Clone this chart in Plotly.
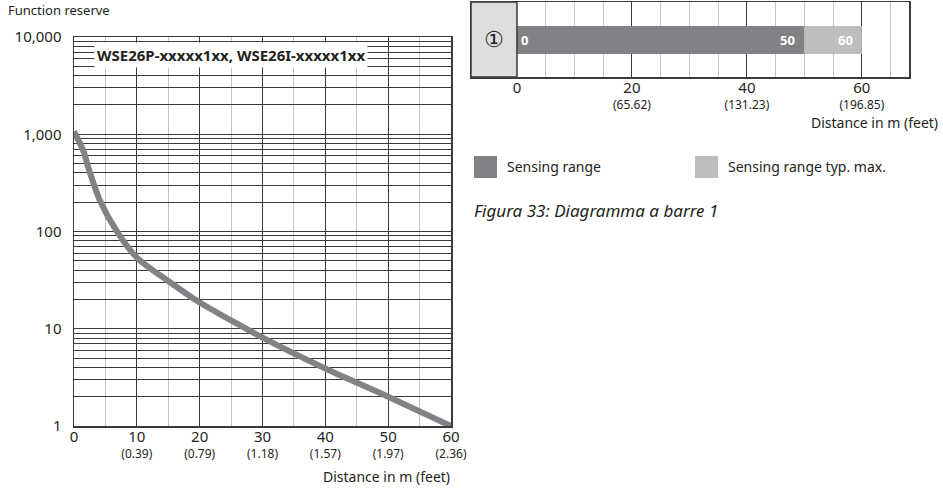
import plotly.graph_objects as go

# ---------------- data ----------------
dist_m = [0, 1.5, 2.3, 4.1, 6.8, 10, 15, 20, 25, 30, 40, 50, 60]
func_reserve = [1070, 670, 450, 210, 101, 54, 31, 18.6, 12.2, 8.1, 3.9, 2.0, 1.0]

x_ticks = [0, 10, 20, 30, 40, 50, 60]
x_feet = ["", "(0.39)", "(0.79)", "(1.18)", "(1.57)", "(1.97)", "(2.36)"]
y_ticks = [1, 10, 100, 1000, 10000]
y_tick_labels = ["1", "10", "100", "1,000", "10,000"]

bar_names = ["Sensing range", "Sensing range typ. max."]
bar_start = [0, 50]
bar_end = [50, 60]
bar_ticks = [0, 20, 40, 60]
bar_feet = ["", "(65.62)", "(131.23)", "(196.85)"]

model_label = "WSE26P-xxxxx1xx, WSE26I-xxxxx1xx"
row_label = "①"
caption = "Figura 33: Diagramma a barre 1"

# ---------------- style ----------------
W, H = 943, 488
FONT = "Noto Sans"
TXT = "#231f20"
DARK_GRID = "#3a3a3a"
LIGHT_GRID = "#c4c4c4"
CURVE = "#808285"
BAR_DARK = "#808285"
BAR_LIGHT = "#bcbec0"
CELL = "#dcdddf"


def px(x):
    return x / W


def py(y):
    return 1 - y / H


def ticktext(main, sub):
    out = []
    for m, s in zip(main, sub):
        line1 = f"<span style='font-size:15px'>{m}</span>"
        out.append(f"{line1}<br>{s}" if s else f"{line1}<br> ")
    return out


fig = go.Figure()

# left: function reserve curve
fig.add_trace(go.Scatter(
    x=dist_m, y=func_reserve, mode="lines",
    line=dict(color=CURVE, width=6, shape="spline", smoothing=0.8),
    xaxis="x", yaxis="y", showlegend=False, hoverinfo="skip"))

# right: bar diagram
bar_colors = [BAR_DARK, BAR_LIGHT]
for name, s, e, c in zip(bar_names, bar_start, bar_end, bar_colors):
    fig.add_trace(go.Bar(
        x=[e - s], base=[s], y=[0.493], width=0.373, orientation="h",
        marker=dict(color=c, line=dict(width=0)), name=name,
        xaxis="x2", yaxis="y2", showlegend=False, hoverinfo="skip"))

minor_y = [k * 10 ** d for d in range(4) for k in range(2, 10)]

fig.update_layout(
    width=W, height=H,
    margin=dict(l=0, r=0, t=0, b=0, autoexpand=False),
    paper_bgcolor="white", plot_bgcolor="white",
    font=dict(family=FONT, color=TXT, size=14),
    barmode="overlay",
    xaxis=dict(
        domain=[px(74), px(451)], range=[0, 60], anchor="y", automargin=False,
        tickmode="array", tickvals=x_ticks,
        ticktext=ticktext([str(v) for v in x_ticks], x_feet),
        showgrid=True, gridcolor=DARK_GRID, gridwidth=1,
        minor=dict(dtick=5, tick0=0, showgrid=True, gridcolor=LIGHT_GRID, gridwidth=1),
        showline=True, linecolor=DARK_GRID, linewidth=1.5, mirror=True,
        zeroline=False, ticks="", tickfont=dict(size=12), ticklabelstandoff=0,
    ),
    yaxis=dict(
        domain=[py(426), py(37)], type="log", range=[0, 4], anchor="x", automargin=False,
        tickmode="array", tickvals=y_ticks, ticktext=y_tick_labels,
        showgrid=True, gridcolor=DARK_GRID, gridwidth=1,
        minor=dict(tickmode="array", tickvals=minor_y, showgrid=True,
                   gridcolor=DARK_GRID, gridwidth=1, ticks=""),
        showline=True, linecolor=DARK_GRID, linewidth=1.5, mirror=True,
        zeroline=False, ticks="", tickfont=dict(size=15), ticklabelstandoff=8,
    ),
    xaxis2=dict(
        domain=[px(471), px(909)], range=[-8, 68.2], anchor="y2", automargin=False,
        tickmode="array", tickvals=bar_ticks,
        ticktext=ticktext([str(v) for v in bar_ticks], bar_feet),
        showgrid=True, gridcolor=DARK_GRID, gridwidth=1,
        minor=dict(dtick=5, tick0=0, showgrid=True, gridcolor=LIGHT_GRID, gridwidth=1),
        showline=True, linecolor=DARK_GRID, linewidth=1.5, mirror=True,
        zeroline=False, ticks="", tickfont=dict(size=12), ticklabelstandoff=0,
    ),
    yaxis2=dict(
        domain=[py(77), py(2)], range=[0, 1], anchor="x2", automargin=False,
        showgrid=False, showticklabels=False, zeroline=False,
        showline=True, linecolor=DARK_GRID, linewidth=1.5, mirror=True,
    ),
)

shapes = [
    dict(type="rect", xref="x2", yref="y2", x0=-8, x1=0, y0=0, y1=1,
         fillcolor=CELL, line=dict(color=DARK_GRID, width=1.5), layer="above"),
]
# legend squares
leg_x = [474, 695]
for lx, c in zip(leg_x, bar_colors):
    shapes.append(dict(type="rect", xref="paper", yref="paper",
                       x0=px(lx), x1=px(lx + 23), y0=py(178), y1=py(156),
                       fillcolor=c, line=dict(width=0)))
fig.update_layout(shapes=shapes)

ann = [
    dict(text="Function reserve", x=px(6), y=py(10), xanchor="left", yanchor="middle",
         font=dict(size=13)),
    dict(text="Distance in m (feet)", x=px(452), y=py(476), xanchor="right", yanchor="middle",
         font=dict(size=14)),
    dict(text=f"<b>{model_label}</b>", x=px(231), y=py(55), xanchor="center", yanchor="middle",
         font=dict(size=15), bgcolor="white", borderpad=2),
    dict(text="Distance in m (feet)", x=px(940), y=py(122), xanchor="right", yanchor="middle",
         font=dict(size=14)),
    dict(text=row_label, xref="x2", yref="y2", x=-4, y=0.5, xanchor="center", yanchor="middle",
         font=dict(size=22, family="DejaVu Sans")),
    dict(text=f"<b>{bar_start[0]}</b>", xref="x2", yref="y2", x=bar_start[0], y=0.493,
         xanchor="left", yanchor="middle", xshift=2, font=dict(size=13, color="white")),
    dict(text=f"<i>{caption}</i>", x=px(472), y=py(211), xanchor="left", yanchor="middle",
         font=dict(size=17)),
]
for e in bar_end:
    ann.append(dict(text=f"<b>{e}</b>", xref="x2", yref="y2", x=e, y=0.493,
                    xanchor="right", yanchor="middle", xshift=-7,
                    font=dict(size=13, color="white")))
for lx, name in zip(leg_x, bar_names):
    ann.append(dict(text=name, x=px(lx + 31), y=py(167), xanchor="left", yanchor="middle",
                    font=dict(size=14)))
for a in ann:
    a.setdefault("xref", "paper")
    a.setdefault("yref", "paper")
    a["showarrow"] = False
fig.update_layout(annotations=ann)

fig.write_html(
    "out.html",
    config={"displayModeBar": False, "staticPlot": True},
    post_script="document.body.style.margin='0';document.body.style.overflow='hidden';",
)
